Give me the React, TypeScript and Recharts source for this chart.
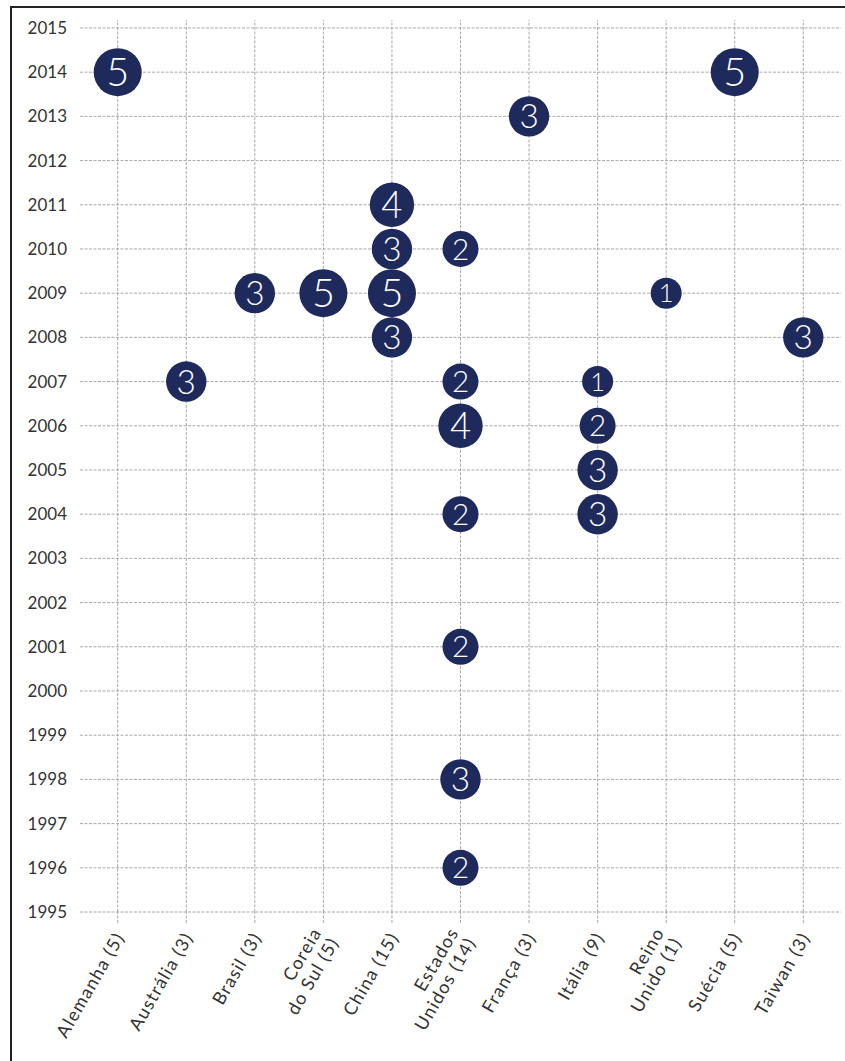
import { ScatterChart, Scatter, XAxis, YAxis, ZAxis, ReferenceLine } from "recharts";

const countries = [
  "Alemanha (5)",
  "Austrália (3)",
  "Brasil (3)",
  "Coreia\ndo Sul (5)",
  "China (15)",
  "Estados\nUnidos (14)",
  "França (3)",
  "Itália (9)",
  "Reino\nUnido (1)",
  "Suécia (5)",
  "Taiwan (3)",
];

const yearTicks = [
  1995, 1996, 1997, 1998, 1999, 2000, 2001, 2002, 2003, 2004, 2005,
  2006, 2007, 2008, 2009, 2010, 2011, 2012, 2013, 2014, 2015,
];

// one entry per bubble: country index, year, count
const pointCountry = [0, 1, 2, 3, 4, 4, 4, 4, 5, 5, 5, 5, 5, 5, 5, 6, 7, 7, 7, 7, 8, 9, 10];
const pointYear = [
  2014, 2007, 2009, 2009, 2011, 2010, 2009, 2008, 2010, 2007, 2006, 2004,
  2001, 1998, 1996, 2013, 2007, 2006, 2005, 2004, 2009, 2014, 2008,
];
const pointCount = [5, 3, 3, 5, 4, 3, 5, 3, 2, 2, 4, 2, 2, 3, 2, 3, 1, 2, 3, 3, 1, 5, 3];

const data = pointCountry.map((c, i) => ({ c, year: pointYear[i], v: pointCount[i] }));

const NAVY = "#1f2a5c";
const GRID = "#a8a8a8";
const FONT = "Lato, 'Open Sans', sans-serif";

function Bubble(props: any) {
  const { cx, cy, payload } = props;
  const r = (props.width ?? 2 * Math.sqrt(props.size / Math.PI)) / 2;
  return (
    <g>
      <circle cx={cx} cy={cy} r={r} fill={NAVY} />
      <text
        x={cx}
        y={cy}
        dy="0.36em"
        textAnchor="middle"
        fill="#fff"
        fontSize={r * 1.65}
        fontWeight={300}
        fontFamily={FONT}
      >
        {payload.v}
      </text>
    </g>
  );
}

function CountryTick({ x, y, payload }: any) {
  const lines = String(countries[payload.value] ?? "").split("\n");
  const lh = 20;
  const start = -((lines.length - 1) * lh) / 2;
  return (
    <g transform={`translate(${x + 2},${y + 9}) rotate(-60)`}>
      <text textAnchor="end" fill="#333" fontSize={18} fontFamily={FONT} letterSpacing={1.2}>
        {lines.map((l, i) => (
          <tspan key={i} x={0} y={start + i * lh} dy="0.35em">
            {l}
          </tspan>
        ))}
      </text>
    </g>
  );
}

export default function App() {
  return (
    <div
      style={{
        position: "absolute",
        left: 10,
        top: 6,
        width: 835,
        height: 1055,
        boxSizing: "border-box",
        borderLeft: "2px solid #222",
        borderTop: "2px solid #222",
        background: "#fff",
      }}
    >
      <ScatterChart width={833} height={1053} margin={{ top: 12, right: 4, left: 0, bottom: 0 }}>
        <XAxis
          type="number"
          dataKey="c"
          domain={[-0.55, 10.55]}
          ticks={countries.map((_, i) => i)}
          interval={0}
          height={149}
          axisLine={false}
          tickSize={11}
          tickLine={{ stroke: GRID, strokeDasharray: "3 1.5" }}
          tick={<CountryTick />}
        />
        <YAxis
          type="number"
          dataKey="year"
          domain={[1995, 2015.18]}
          ticks={yearTicks}
          interval={0}
          width={68}
          axisLine={false}
          tickLine={false}
          tickSize={0}
          tickMargin={13}
          tick={{ fill: "#333", fontSize: 17, fontFamily: FONT }}
        />
        <ZAxis type="number" dataKey="v" domain={[1, 5]} range={[755, 1810]} />
        {yearTicks.map((t) => (
          <ReferenceLine key={"y" + t} y={t} stroke={GRID} strokeDasharray="3 1.5" />
        ))}
        {countries.map((_, i) => (
          <ReferenceLine key={"x" + i} x={i} stroke={GRID} strokeDasharray="3 1.5" />
        ))}
        <Scatter data={data} shape={<Bubble />} isAnimationActive={false} />
      </ScatterChart>
    </div>
  );
}
